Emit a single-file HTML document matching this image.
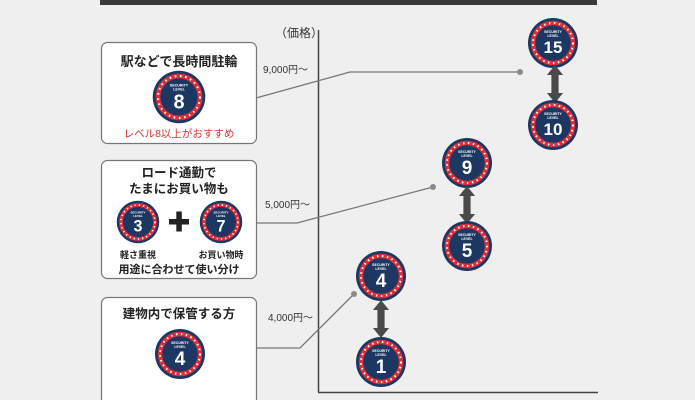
<!DOCTYPE html>
<html><head><meta charset="utf-8"><style>
html,body{margin:0;padding:0;background:#efefef;}
svg{display:block;font-family:"Liberation Sans","Noto Sans CJK JP",sans-serif;}
</style></head><body>
<svg width="695" height="400" viewBox="0 0 695 400" xmlns="http://www.w3.org/2000/svg">
<defs>
<g id="bd">
<circle r="25" fill="#1d3763"/>
<circle r="20" fill="none" stroke="#d9303a" stroke-width="4.5"/>
<circle r="20" fill="none" stroke="#fff" stroke-width="2" stroke-dasharray="1.5 3.5"/>
<circle r="16.5" fill="#1d3763"/>
<text y="-10" font-size="3.5" fill="#fff" text-anchor="middle" font-weight="bold">SECURITY</text>
<text y="-6" font-size="3.5" fill="#fff" text-anchor="middle" font-weight="bold">LEVEL</text>
</g>
<g id="ar"><polygon points="0,-21 -9,-10 -4,-10 -4,10 -9,10 0,21 9,10 4,10 4,-10 9,-10" fill="#4a4a4a"/></g>
</defs>
<rect x="100" y="0" width="497" height="5" fill="#3a3a3a"/>
<line x1="318.5" y1="30" x2="318.5" y2="392" stroke="#444" stroke-width="1.5"/>
<line x1="318" y1="392.5" x2="598" y2="392.5" stroke="#444" stroke-width="1.5"/>
<text x="275" y="37" font-size="12" fill="#333">（価格）</text>
<text x="263" y="73" font-size="10" fill="#333">9,000円〜</text>
<text x="265" y="208" font-size="10" fill="#333">5,000円〜</text>
<text x="268" y="321" font-size="10" fill="#333">4,000円〜</text>
<polyline points="256,98 350,72 520,72" fill="none" stroke="#777" stroke-width="1.3"/>
<circle cx="520" cy="72" r="3" fill="#888"/>
<polyline points="256,223 297,223 433,187" fill="none" stroke="#777" stroke-width="1.3"/>
<circle cx="433" cy="187" r="3" fill="#888"/>
<polyline points="256,348 300,348 354,294" fill="none" stroke="#777" stroke-width="1.3"/>
<circle cx="354" cy="294" r="3" fill="#888"/>

<rect x="101.5" y="42.5" width="155" height="101" rx="6" fill="#fff" stroke="#777" stroke-width="1.2"/>
<text x="179" y="66" font-size="13" text-anchor="middle" fill="#222" font-weight="bold">駅などで長時間駐輪</text>
<g transform="translate(179,97) scale(1.05)"><use href="#bd"/><text y="11" font-size="19" fill="#fff" font-weight="bold" text-anchor="middle">8</text></g>
<text x="179" y="137" font-size="10.5" text-anchor="middle" fill="#d33">レベル8以上がおすすめ</text>

<rect x="101.5" y="160.5" width="155" height="118" rx="6" fill="#fff" stroke="#777" stroke-width="1.2"/>
<text x="179" y="177" font-size="12.5" text-anchor="middle" fill="#222" font-weight="bold">ロード通勤で</text>
<text x="179" y="193" font-size="12.5" text-anchor="middle" fill="#222" font-weight="bold">たまにお買い物も</text>
<g transform="translate(138,222) scale(0.85)"><use href="#bd"/><text y="11" font-size="19" fill="#fff" font-weight="bold" text-anchor="middle">3</text></g>
<g transform="translate(221,222) scale(0.85)"><use href="#bd"/><text y="11" font-size="19" fill="#fff" font-weight="bold" text-anchor="middle">7</text></g>
<rect x="169" y="219" width="20" height="5.5" fill="#222"/><rect x="176.3" y="211.5" width="5.5" height="20" fill="#222"/>
<text x="138" y="258" font-size="9" text-anchor="middle" fill="#222" font-weight="bold">軽さ重視</text>
<text x="221" y="258" font-size="9" text-anchor="middle" fill="#222" font-weight="bold">お買い物時</text>
<text x="179" y="273" font-size="11" text-anchor="middle" fill="#222" font-weight="bold">用途に合わせて使い分け</text>

<rect x="101.5" y="297.5" width="155" height="110" rx="6" fill="#fff" stroke="#777" stroke-width="1.2"/>
<text x="179" y="318" font-size="12.5" text-anchor="middle" fill="#222" font-weight="bold">建物内で保管する方</text>
<g transform="translate(180,354)"><use href="#bd"/><text y="11" font-size="19" fill="#fff" font-weight="bold" text-anchor="middle">4</text></g>

<g transform="translate(553,43)"><use href="#bd"/><text y="10" font-size="17" fill="#fff" font-weight="bold" text-anchor="middle">15</text></g>
<use href="#ar" transform="translate(555,84) scale(0.9)"/>
<g transform="translate(553,125)"><use href="#bd"/><text y="10" font-size="17" fill="#fff" font-weight="bold" text-anchor="middle">10</text></g>
<g transform="translate(467,163)"><use href="#bd"/><text y="11" font-size="19" fill="#fff" font-weight="bold" text-anchor="middle">9</text></g>
<use href="#ar" transform="translate(467,205) scale(0.9)"/>
<g transform="translate(467,246)"><use href="#bd"/><text y="11" font-size="19" fill="#fff" font-weight="bold" text-anchor="middle">5</text></g>
<g transform="translate(381,276)"><use href="#bd"/><text y="11" font-size="19" fill="#fff" font-weight="bold" text-anchor="middle">4</text></g>
<use href="#ar" transform="translate(381,319) scale(0.9)"/>
<g transform="translate(381,362)"><use href="#bd"/><text y="11" font-size="19" fill="#fff" font-weight="bold" text-anchor="middle">1</text></g>
</svg>
</body></html>
